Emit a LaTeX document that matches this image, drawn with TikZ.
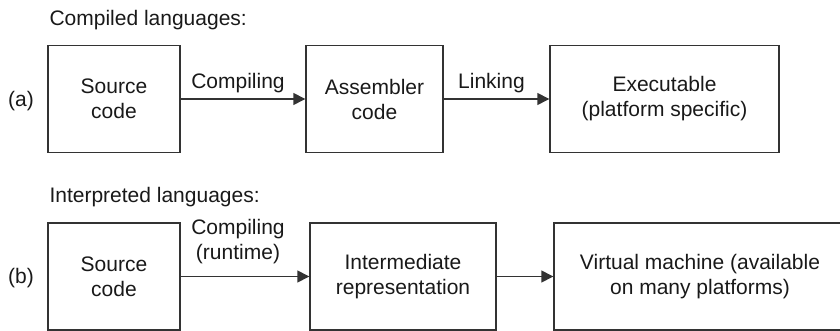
\documentclass[tikz,border=0pt]{standalone}
\usepackage{fontspec}
\setmainfont{Liberation Sans}
\usetikzlibrary{arrows.meta}

\begin{document}
\begin{tikzpicture}[x=1pt, y=-1pt, >={Triangle[length=12pt, width=12pt]},
  every node/.style={font=\fontsize{21}{25}\selectfont, text=black!90},
  stage/.style={draw=black!80, line width=1.4pt, align=center,
    minimum height=107pt, inner sep=0pt},
  flow/.style={->, draw=black!80, line width=1.4pt}]
  \useasboundingbox (0,0) rectangle (840,331);
  % (a) compiled
  \node[anchor=base west] (titleA) at (46,26) {Compiled languages:};
  \node (tagA) at (21,101) {(a)};
  \node[stage, minimum width=132pt] (srcA) at (114,99) {Source\\code};
  \node[stage, minimum width=137pt] (asmA) at (374.5,99) {Assembler\\code};
  \node[stage, minimum width=229pt] (exeA) at (664.5,99)
    {Executable\\(platform specific)};
  \draw[flow] (srcA) -- (asmA)
    node[midway, above=3pt, xshift=-5pt, inner sep=2pt]{Compiling};
  \draw[flow] (asmA) -- (exeA)
    node[midway, above=3pt, xshift=-5pt, inner sep=2pt]{Linking};
  % (b) interpreted
  \node[anchor=base west] (titleB) at (46,203) {Interpreted languages:};
  \node (tagB) at (21,278) {(b)};
  \node[stage, minimum width=132pt] (srcB) at (114,276.5) {Source\\code};
  \node[stage, minimum width=186pt] (irB) at (403,276.5)
    {Intermediate\\representation};
  \node[stage, minimum width=292pt] (vmB) at (700,276.5)
    {Virtual machine (available\\on many platforms)};
  \draw[flow] (srcB) -- (irB)
    node[midway, above=10pt, xshift=-7pt, inner sep=2pt, align=center]
    {Compiling\\(runtime)};
  \draw[flow] (irB) -- (vmB);
\end{tikzpicture}
\end{document}
